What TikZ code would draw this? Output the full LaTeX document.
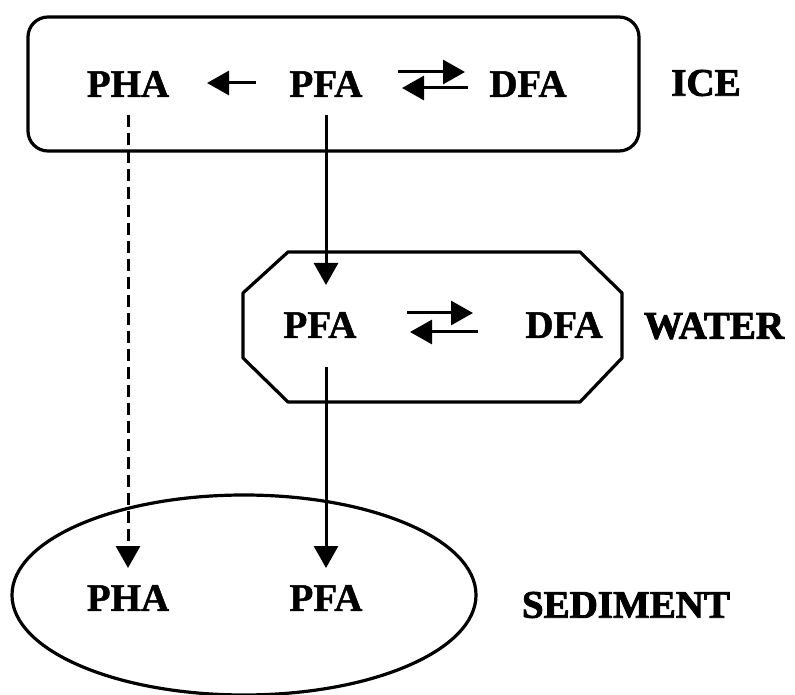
\documentclass[tikz,border=0pt]{standalone}
\usepackage{fontspec}
\setmainfont{Liberation Serif}[BoldFeatures={FakeBold=1.2}]
\newfontfamily\heavyserif{Liberation Serif Bold}[FakeBold=2.2]
\usetikzlibrary{arrows.meta,calc,shapes.geometric}
\begin{document}
\begin{tikzpicture}[x=1pt,y=1pt,
  lbl/.style={inner sep=0pt,font=\fontsize{39}{40}\selectfont\bfseries},
  zone/.style={inner sep=0pt,font=\fontsize{39}{40}\selectfont\heavyserif},
  box/.style={draw,line width=3.2pt},
  arr/.style={line width=3pt,-{Triangle[length=22pt,width=24pt]}},
  dasharr/.style={arr,dash pattern=on 12pt off 6pt}]
\useasboundingbox (0,0) rectangle (795,694);

% compartments
\node[box,rounded corners=20pt,minimum width=611pt,minimum height=134pt,inner sep=0pt]
  (icebox) at (333.5,610) {};
\draw[box,line join=round] (288,442) -- (580,442) -- (622,401) -- (622,336) -- (580,292)
  -- (288,292) -- (243,336) -- (243,401) -- cycle;
\node[box,ellipse,minimum width=464pt,minimum height=200pt,inner sep=0pt]
  (sedbox) at (244,99) {};

% species
\node[lbl] (pha1) at (128,610) {PHA};
\node[lbl] (pfa1) at (326,610) {PFA};
\node[lbl] (dfa1) at (528,610) {DFA};
\node[lbl] (pfa2) at (320,369) {PFA};
\node[lbl] (dfa2) at (564,369) {DFA};
\node[lbl] (pha3) at (128,96) {PHA};
\node[lbl] (pfa3) at (326,96) {PFA};

% compartment names
\node[zone] (ice) at (706,611) {ICE};
\node[zone] (water) at (714,368) {WATER};
\node[zone] (sediment) at (626,89) {SEDIMENT};

% transformations within ice
\draw[arr] ($(pfa1)+(-70,1)$) -- ($(pha1)+(79,1)$);
\draw[arr] ($(pfa1)+(72,12)$) -- ($(dfa1)+(-63,12)$);
\draw[arr] ($(dfa1)+(-60,-4)$) -- ($(pfa1)+(76,-4)$);

% exchange within water
\draw[arr] ($(pfa2)+(87,12)$) -- ($(dfa2)+(-91,12)$);
\draw[arr] ($(dfa2)+(-86,-7)$) -- ($(pfa2)+(90,-7)$);

% transfers between compartments
\draw[dasharr] ($(pha1)+(0,-31)$) -- ($(pha3)+(0,30)$);
\draw[arr] ($(pfa1)+(0,-31)$) -- ($(pfa1 |- pfa2)+(0,40)$);
\draw[arr] ($(pfa3 |- pfa2)+(0,-42)$) -- ($(pfa3)+(0,30)$);
\end{tikzpicture}
\end{document}
